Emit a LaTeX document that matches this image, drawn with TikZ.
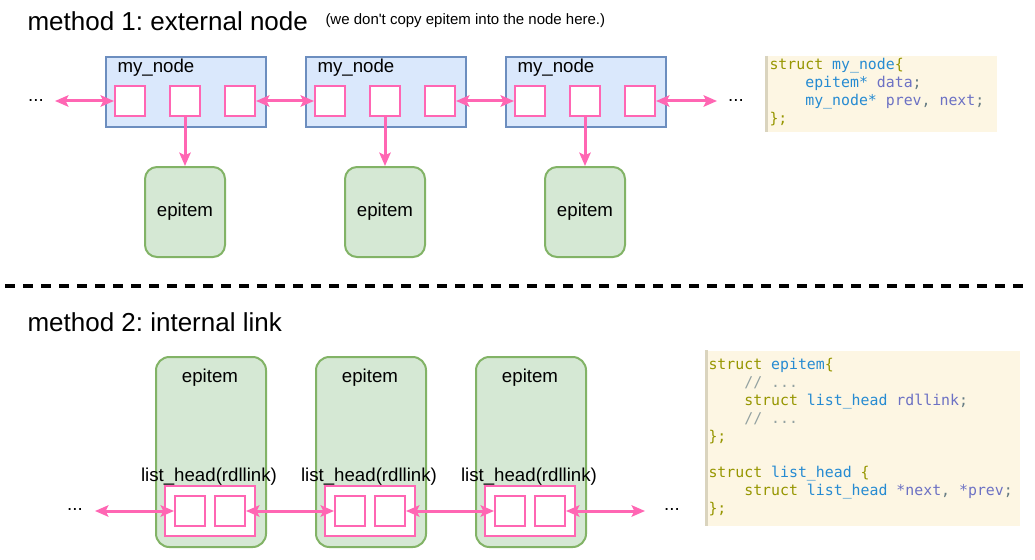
\documentclass[tikz,border=0pt]{standalone}
\usepackage{fontspec}
\newfontfamily\sansfam{Liberation Sans}
\newfontfamily\codefam{DejaVu Sans Mono}
\usetikzlibrary{arrows.meta}
\frenchspacing

\definecolor{pinkline}{RGB}{255,102,179}
\definecolor{nodefill}{RGB}{218,232,252}
\definecolor{nodeline}{RGB}{108,142,191}
\definecolor{itemfill}{RGB}{213,232,212}
\definecolor{itemline}{RGB}{130,179,102}
\definecolor{codebg}{RGB}{253,246,227}
\definecolor{codebar}{RGB}{218,212,190}
\definecolor{kwcol}{RGB}{150,150,0}
\definecolor{typecol}{RGB}{38,139,210}
\definecolor{idcol}{RGB}{108,113,196}
\definecolor{cmtcol}{RGB}{147,161,161}
\definecolor{puncol}{RGB}{101,123,131}

\newcommand{\ind}{\hphantom{xxxx}}

\tikzset{every picture/.style={line width=0.75pt}}
\tikzset{
	headtext/.style={anchor=base west, inner sep=0pt, font=\sansfam\fontsize{19.5}{23}\selectfont},
	notetext/.style={anchor=base west, inner sep=0pt, font=\sansfam\fontsize{11.25}{13}\selectfont},
	tagtext/.style={inner sep=0pt, font=\sansfam\fontsize{14}{17}\selectfont},
	nodebox/.style={draw=nodeline, fill=nodefill, line width=1.5pt, minimum width=120pt, minimum height=52.5pt, inner sep=0pt},
	slot/.style={draw=pinkline, fill=white, line width=1.5pt, minimum size=22.5pt, inner sep=0pt},
	itemsmall/.style={draw=itemline, fill=itemfill, line width=1.5pt, rounded corners=9pt, minimum width=60pt, minimum height=67.5pt, inner sep=0pt, font=\sansfam\fontsize{14}{17}\selectfont},
	itembig/.style={draw=itemline, fill=itemfill, line width=1.5pt, rounded corners=10pt, minimum width=82.5pt, minimum height=142.5pt, inner sep=0pt},
	linkbox/.style={draw=pinkline, fill=white, line width=1.5pt, minimum width=67.5pt, minimum height=37.5pt, inner sep=0pt},
	link/.style={draw=pinkline, line width=2.25pt, arrows={Stealth[length=10pt,width=8.5pt,inset=2pt]-Stealth[length=10pt,width=8.5pt,inset=2pt]}},
	down/.style={draw=pinkline, line width=2.25pt, arrows={-Stealth[length=10pt,width=8.5pt,inset=2pt]}},
	sepline/.style={draw=black, line width=2.6pt, dash pattern=on 7.3pt off 6.2pt},
	codebox/.style={fill=codebg, draw=none, inner sep=0pt},
	codetext/.style={anchor=north west, inner sep=0pt, align=left, font=\codefam\fontsize{11.15}{13.5}\selectfont}
}

\begin{document}
\begin{tikzpicture}[x=0.75pt,y=0.75pt,yscale=-1,xscale=1]
	\useasboundingbox (0,0) rectangle (1035,560);

	% method 1
	\node[headtext] (head1) at (27,31) {method 1: external node};
	\node[notetext] (note1) at (325,25) {(we don't copy epitem into the node here.)};

	\foreach \i/\x in {1/105,2/305,3/505}{
		\node[nodebox, anchor=north west] (nd\i) at (\x,56) {};
		\node[tagtext, anchor=base west] (ndlab\i) at (\x+12,73) {my\_node};
		\node[slot] (nda\i) at (\x+25,101) {};
		\node[slot] (ndb\i) at (\x+80,101) {};
		\node[slot] (ndc\i) at (\x+135,101) {};
		\node[itemsmall] (it\i) at (\x+80,212) {epitem};
		\draw[down] (ndb\i.south) -- (it\i.north);
	}

	\coordinate (lend1) at (55,101);
	\coordinate (rend1) at (717,101);
	\draw[link] (lend1) -- (nda1.west);
	\draw[link] (ndc1.east) -- (nda2.west);
	\draw[link] (ndc2.east) -- (nda3.west);
	\draw[link] (ndc3.east) -- (rend1);
	\node[tagtext, anchor=base] (ldots1) at (36,102) {...};
	\node[tagtext, anchor=base] (rdots1) at (736,102) {...};

	\node[codebox, anchor=north west, minimum width=173.25pt, minimum height=56.25pt] (code1) at (765,56) {};
	\draw[codebar, line width=2.25pt] ([xshift=1.1pt]code1.north west) -- ([xshift=1.1pt]code1.south west);
	\node[codetext] (code1txt) at (769,58) {\textcolor{kwcol}{struct} \textcolor{typecol}{my\_node}\textcolor{kwcol}{\{}\\
		\ind\textcolor{typecol}{epitem*} \textcolor{idcol}{data}\textcolor{puncol}{;}\\
		\ind\textcolor{typecol}{my\_node*} \textcolor{idcol}{prev}\textcolor{puncol}{,} \textcolor{idcol}{next}\textcolor{puncol}{;}\\
		\textcolor{kwcol}{\};}};

	\draw[sepline] (5,286) -- (1030,286);

	% method 2
	\node[headtext] (head2) at (27,331) {method 2: internal link};

	\foreach \i/\x in {1/155,2/315,3/475}{
		\node[itembig, anchor=north west] (ep\i) at (\x,356) {};
		\node[tagtext, anchor=base] (eplab\i) at (\x+55,382) {epitem};
		\node[tagtext, anchor=base] (lhlab\i) at (\x+54,481) {list\_head(rdllink)};
		\node[linkbox] (lh\i) at (\x+55,511) {};
		\node[slot] (lha\i) at (\x+35,511) {};
		\node[slot] (lhb\i) at (\x+75,511) {};
	}

	\coordinate (lend2) at (95,511);
	\coordinate (rend2) at (645,511);
	\draw[link] (lend2) -- (lha1.west);
	\draw[link] (lhb1.east) -- (lha2.west);
	\draw[link] (lhb2.east) -- (lha3.west);
	\draw[link] (lhb3.east) -- (rend2);
	\node[tagtext, anchor=base] (ldots2) at (75,510) {...};
	\node[tagtext, anchor=base] (rdots2) at (672,510) {...};

	\node[codebox, anchor=north west, minimum width=235.5pt, minimum height=131.25pt] (code2) at (705,350) {};
	\draw[codebar, line width=2.25pt] ([xshift=1.1pt]code2.north west) -- ([xshift=1.1pt]code2.south west);
	\node[codetext] (code2txt) at (708,358) {\textcolor{kwcol}{struct} \textcolor{typecol}{epitem}\textcolor{kwcol}{\{}\\
		\ind\textcolor{cmtcol}{// ...}\\
		\ind\textcolor{kwcol}{struct} \textcolor{typecol}{list\_head} \textcolor{idcol}{rdllink}\textcolor{puncol}{;}\\
		\ind\textcolor{cmtcol}{// ...}\\
		\textcolor{kwcol}{\};}\\[13.5pt]
		\textcolor{kwcol}{struct} \textcolor{typecol}{list\_head} \textcolor{kwcol}{\{}\\
		\ind\textcolor{kwcol}{struct} \textcolor{typecol}{list\_head} \textcolor{idcol}{*next}\textcolor{puncol}{,} \textcolor{idcol}{*prev}\textcolor{puncol}{;}\\
		\textcolor{kwcol}{\};}};

\end{tikzpicture}
\end{document}
